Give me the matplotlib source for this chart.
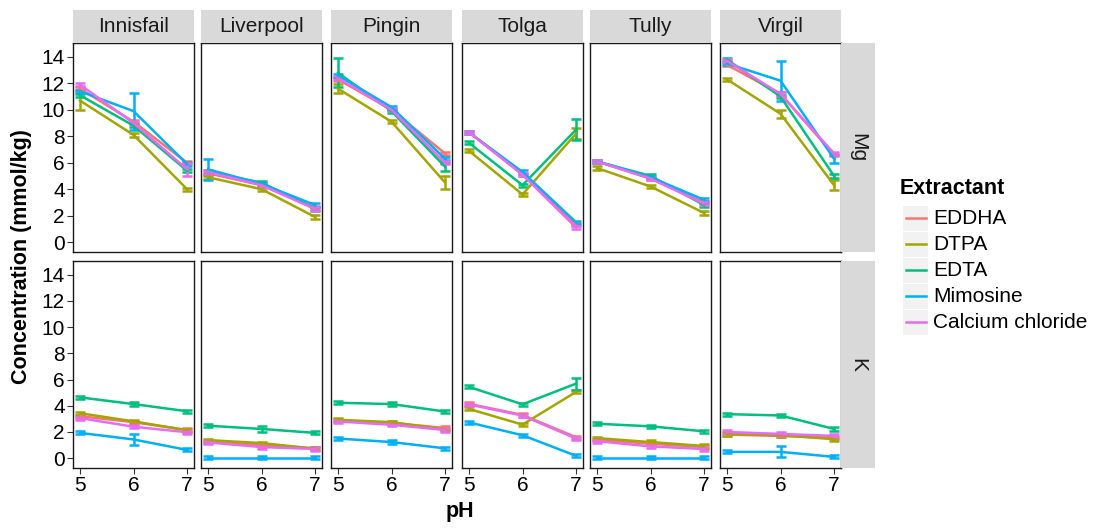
import matplotlib.pyplot as plt
import numpy as np

plt.rcParams['font.family'] = ['Liberation Sans', 'DejaVu Sans']

sites = ['Innisfail', 'Liverpool', 'Pingin', 'Tolga', 'Tully', 'Virgil']
elements = ['Mg', 'K']
extractants = ['EDDHA', 'DTPA', 'EDTA', 'Mimosine', 'Calcium chloride']
colors = ['#F8766D', '#A3A500', '#00BF7D', '#00B0F6', '#E76BF3']
ph = [5, 6, 7]

# mean concentration (mmol/kg), one row per site, columns pH 5, 6, 7
mg_eddha = [[11.6, 9.1, 6.0], [5.2, 4.3, 2.6], [12.3, 10.0, 6.7], [8.3, 5.1, 1.3], [6.1, 4.8, 3.0], [13.4, 11.2, 6.6]]
mg_dtpa = [[10.7, 8.1, 4.0], [4.9, 4.0, 1.9], [11.6, 9.1, 4.5], [6.9, 3.6, 8.2], [5.6, 4.2, 2.2], [12.3, 9.7, 4.3]]
mg_edta = [[11.1, 8.8, 5.4], [5.3, 4.5, 2.5], [12.8, 9.9, 5.7], [7.5, 4.3, 8.5], [6.1, 5.0, 2.8], [13.8, 11.0, 5.0]]
mg_mimosine = [[11.4, 9.9, 5.9], [5.5, 4.4, 2.8], [12.6, 10.2, 6.3], [8.3, 5.3, 1.5], [6.1, 4.9, 3.2], [13.5, 12.2, 6.3]]
mg_cacl2 = [[11.9, 9.0, 5.5], [5.3, 4.3, 2.5], [12.4, 10.0, 6.0], [8.3, 5.1, 1.1], [6.1, 4.8, 2.9], [13.7, 11.2, 6.7]]

k_eddha = [[3.2, 2.75, 2.15], [1.3, 1.0, 0.75], [2.85, 2.7, 2.3], [4.15, 3.3, 1.6], [1.4, 1.1, 0.85], [1.8, 1.7, 1.55]]
k_dtpa = [[3.43, 2.81, 2.13], [1.38, 1.15, 0.73], [2.93, 2.75, 2.18], [3.76, 2.56, 5.06], [1.53, 1.23, 0.93], [1.85, 1.75, 1.45]]
k_edta = [[4.64, 4.13, 3.58], [2.48, 2.23, 1.93], [4.23, 4.13, 3.56], [5.44, 4.11, 5.69], [2.63, 2.43, 2.05], [3.36, 3.26, 2.23]]
k_mimosine = [[1.93, 1.43, 0.63], [0.05, 0.05, 0.05], [1.5, 1.23, 0.75], [2.73, 1.75, 0.18], [0.05, 0.05, 0.05], [0.48, 0.48, 0.1]]
k_cacl2 = [[3.06, 2.4, 1.98], [1.2, 0.85, 0.7], [2.8, 2.55, 2.15], [4.1, 3.25, 1.5], [1.3, 0.9, 0.7], [2.0, 1.85, 1.7]]

# standard errors that stand out; everything else gets a small default
se_default = 0.12
se_large = {
    ('Mg', 'Innisfail', 'DTPA', 5): 0.7,
    ('Mg', 'Innisfail', 'Mimosine', 6): 1.4,
    ('Mg', 'Innisfail', 'Calcium chloride', 7): 0.5,
    ('Mg', 'Liverpool', 'Mimosine', 5): 0.8,
    ('Mg', 'Pingin', 'EDTA', 5): 1.1,
    ('Mg', 'Pingin', 'DTPA', 5): 0.35,
    ('Mg', 'Pingin', 'DTPA', 7): 0.5,
    ('Mg', 'Pingin', 'EDTA', 7): 0.3,
    ('Mg', 'Tolga', 'EDTA', 7): 0.8,
    ('Mg', 'Tolga', 'DTPA', 7): 0.4,
    ('Mg', 'Virgil', 'Mimosine', 6): 1.5,
    ('Mg', 'Virgil', 'DTPA', 6): 0.3,
    ('Mg', 'Virgil', 'DTPA', 7): 0.4,
    ('Mg', 'Virgil', 'Mimosine', 7): 0.3,
    ('K', 'Innisfail', 'Mimosine', 6): 0.45,
    ('K', 'Liverpool', 'EDTA', 6): 0.2,
    ('K', 'Tolga', 'EDTA', 7): 0.45,
    ('K', 'Virgil', 'Mimosine', 6): 0.42,
}

values = {
    'Mg': [mg_eddha, mg_dtpa, mg_edta, mg_mimosine, mg_cacl2],
    'K': [k_eddha, k_dtpa, k_edta, k_mimosine, k_cacl2],
}

W, H = 1098, 528
fig = plt.figure(figsize=(W / 100, H / 100), dpi=100)

def px_axes(x0, y0, x1, y1):
    return fig.add_axes([x0 / W, 1 - y1 / H, (x1 - x0) / W, (y1 - y0) / H])

col_x = [73, 201, 331, 462, 590, 720]
col_w = 121
row_y = [(43, 252), (261, 468)]
lw = 1.8

for r, elem in enumerate(elements):
    y0, y1 = row_y[r]
    for c, site in enumerate(sites):
        ax = px_axes(col_x[c], y0, col_x[c] + col_w, y1)
        for e, name in enumerate(extractants):
            y = np.array(values[elem][e][c])
            err = [se_large.get((elem, site, name, p), se_default) for p in ph]
            ax.errorbar(ph, y, yerr=err, color=colors[e], lw=lw,
                        elinewidth=lw, capsize=3.5, capthick=lw)
        ax.set_xlim(4.87, 7.13)
        ax.set_ylim(-0.75, 15.05)
        ax.set_xticks(ph)
        ax.set_yticks(range(0, 15, 2))
        ax.tick_params(colors='#333333', length=4, width=0.8,
                       labelsize=15, labelcolor='black', pad=2)
        for s in ax.spines.values():
            s.set_linewidth(1.0)
            s.set_color('#1A1A1A')
        if c > 0:
            ax.tick_params(axis='y', left=False, labelleft=False)
        if r == 0:
            ax.tick_params(axis='x', bottom=False, labelbottom=False)
            strip = px_axes(col_x[c], 10, col_x[c] + col_w, 43)
            strip.set_facecolor('#D9D9D9')
            strip.set_xticks([])
            strip.set_yticks([])
            for s in strip.spines.values():
                s.set_visible(False)
            strip.text(0.5, 0.5, site, ha='center', va='center',
                       fontsize=15, color='#1A1A1A')
    side = px_axes(841, y0, 875, y1)
    side.set_facecolor('#D9D9D9')
    side.set_xticks([])
    side.set_yticks([])
    for s in side.spines.values():
        s.set_visible(False)
    side.text(0.5, 0.5, elem, ha='center', va='center', rotation=-90,
              fontsize=15, color='#1A1A1A')

fig.text(460 / W, 1 - 512 / H, 'pH', ha='center', va='center',
         fontsize=15.5, fontweight='bold')
fig.text(22 / W, 1 - 257 / H, 'Concentration (mmol/kg)', ha='center',
         va='center', rotation=90, fontsize=15.5, fontweight='bold')

# legend drawn by hand in pixel space
fig.text(900 / W, 1 - 188 / H, 'Extractant', ha='left', va='center',
         fontsize=15.5, fontweight='bold')
for i, name in enumerate(extractants):
    yc = 218 + i * 26
    key = px_axes(903, yc - 12.5, 928, yc + 12.5)
    key.set_facecolor('#F2F2F2')
    key.set_xticks([])
    key.set_yticks([])
    for s in key.spines.values():
        s.set_visible(False)
    key.plot([0.1, 0.9], [0.5, 0.5], color=colors[i], lw=lw)
    key.set_xlim(0, 1)
    key.set_ylim(0, 1)
    fig.text(933 / W, 1 - yc / H, name, ha='left', va='center', fontsize=15)

fig.savefig('out.png', dpi=100)
